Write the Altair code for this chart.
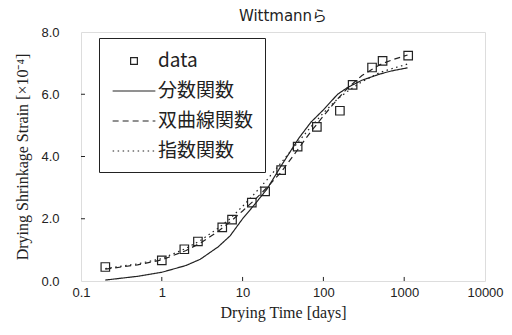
import altair as alt
import pandas as pd

# measured data
data_days = [0.2, 1, 1.9, 2.8, 5.6, 7.4, 13, 19, 30, 48, 83, 160, 230, 400, 540, 1120]
data_strain = [0.45, 0.66, 1.02, 1.27, 1.72, 1.97, 2.52, 2.88, 3.56, 4.32, 4.95, 5.47, 6.3, 6.86, 7.07, 7.24]

# fitted curves
curve_days = [0.2, 0.5, 1, 2, 3, 5, 7, 10, 14, 20, 30, 50, 70, 100, 150, 200, 300, 500, 700, 1100]
frac_fn = [0.03, 0.15, 0.28, 0.5, 0.7, 1.1, 1.45, 2.0, 2.45, 2.95, 3.7, 4.6, 5.1, 5.5, 6.0, 6.22, 6.45, 6.65, 6.75, 6.85]
hyp_fn = [0.38, 0.52, 0.68, 0.98, 1.22, 1.6, 1.9, 2.25, 2.6, 3.0, 3.5, 4.28, 4.8, 5.3, 5.85, 6.2, 6.6, 6.95, 7.1, 7.26]
exp_fn = [0.4, 0.55, 0.72, 1.05, 1.3, 1.7, 2.0, 2.4, 2.8, 3.25, 3.8, 4.5, 4.95, 5.4, 5.85, 6.1, 6.4, 6.7, 6.82, 6.97]

series_names = ["data", "分数関数", "双曲線関数", "指数関数"]
x_ticks = [0.1, 1, 10, 100, 1000, 10000]
y_ticks = [0.0, 2.0, 4.0, 6.0, 8.0]

pts = pd.DataFrame({"days": data_days, "strain": data_strain, "series": "data"})
rows = []
for name, vals in zip(series_names[1:], [frac_fn, hyp_fn, exp_fn]):
    for d, v in zip(curve_days, vals):
        rows.append({"days": d, "strain": v, "series": name})
curves = pd.DataFrame(rows)

xscale = alt.Scale(type="log", domain=[0.1, 10000], nice=False)
yscale = alt.Scale(domain=[0, 8], nice=False)

xaxis = alt.Axis(values=x_ticks, format="~g", title="Drying Time [days]",
                 ticks=False, tickSize=0, labelPadding=5, grid=False, domain=False,
                 titleFont="Liberation Serif", titleFontSize=16, titleFontWeight="normal",
                 titlePadding=5, labelFont="Liberation Sans", labelFontSize=13, labelColor="#222",
                 titleColor="#222", labelFlush=False)
yaxis = alt.Axis(values=y_ticks, format=".1f", title="Drying Shrinkage Strain [×10⁻⁴]",
                 ticks=False, tickSize=0, labelPadding=22, grid=False, domain=False,
                 titleFont="Liberation Serif", titleFontSize=16, titleFontWeight="normal",
                 titlePadding=10, labelFont="Liberation Sans", labelFontSize=13, labelColor="#222",
                 titleColor="#222", labelFlush=False)

legend = alt.Legend(title=None, orient="none", legendX=18, legendY=6,
                    strokeColor="#222", fillColor="white", padding=11,
                    labelFont="Noto Sans CJK JP", labelFontSize=19, labelColor="#222",
                    labelOffset=12, rowPadding=8, symbolSize=506, symbolStrokeWidth=1.2,
                    symbolOffset=12,
                    symbolStrokeColor="#222", symbolFillColor="transparent")

line_path = "M-1.9,0H1.9"
sq_path = "M-0.3,-0.3H0.3V0.3H-0.3Z"

points = alt.Chart(pts).mark_point(filled=False, color="#222", strokeWidth=1.2, size=800, opacity=1).encode(
    x=alt.X("days:Q", scale=xscale, axis=xaxis),
    y=alt.Y("strain:Q", scale=yscale, axis=yaxis),
    shape=alt.Shape("series:N", scale=alt.Scale(domain=series_names, range=[sq_path, line_path, line_path, line_path]), legend=legend),
)

lines = alt.Chart(curves).mark_line(color="#222", strokeWidth=1.2).encode(
    x=alt.X("days:Q", scale=xscale),
    y=alt.Y("strain:Q", scale=yscale),
    strokeDash=alt.StrokeDash("series:N", scale=alt.Scale(domain=series_names, range=[[1, 0], [1, 0], [6, 4], [1.5, 3.5]]), legend=legend),
    detail="series:N",
)

xt = pd.DataFrame({"t": [1, 10, 100, 1000]})
xtick_marks = alt.Chart(xt).mark_rule(color="#222", strokeWidth=1).encode(
    x=alt.X("t:Q", scale=xscale), y=alt.datum(0), y2=alt.datum(0.13))
yt = pd.DataFrame({"v": [2.0, 4.0, 6.0]})
ytick_marks = alt.Chart(yt).mark_rule(color="#222", strokeWidth=1).encode(
    y=alt.Y("v:Q", scale=yscale), x=alt.datum(0.1), x2=alt.datum(0.112))

chart = alt.layer(xtick_marks, ytick_marks, lines, points).properties(
    width=404, height=249,
    title=alt.TitleParams("Wittmannら", font="DejaVu Sans, Noto Sans CJK JP", fontSize=15, fontWeight="normal",
                          color="#222", offset=2, anchor="middle", frame="group"),
    autosize=alt.AutoSizeParams(type="none"),
    padding={"left": 73, "top": 24, "right": 19, "bottom": 46},
).configure_view(stroke="#222", strokeWidth=1).configure(background="white")

chart.save("out.html", embed_options={"renderer": "svg", "actions": False})
